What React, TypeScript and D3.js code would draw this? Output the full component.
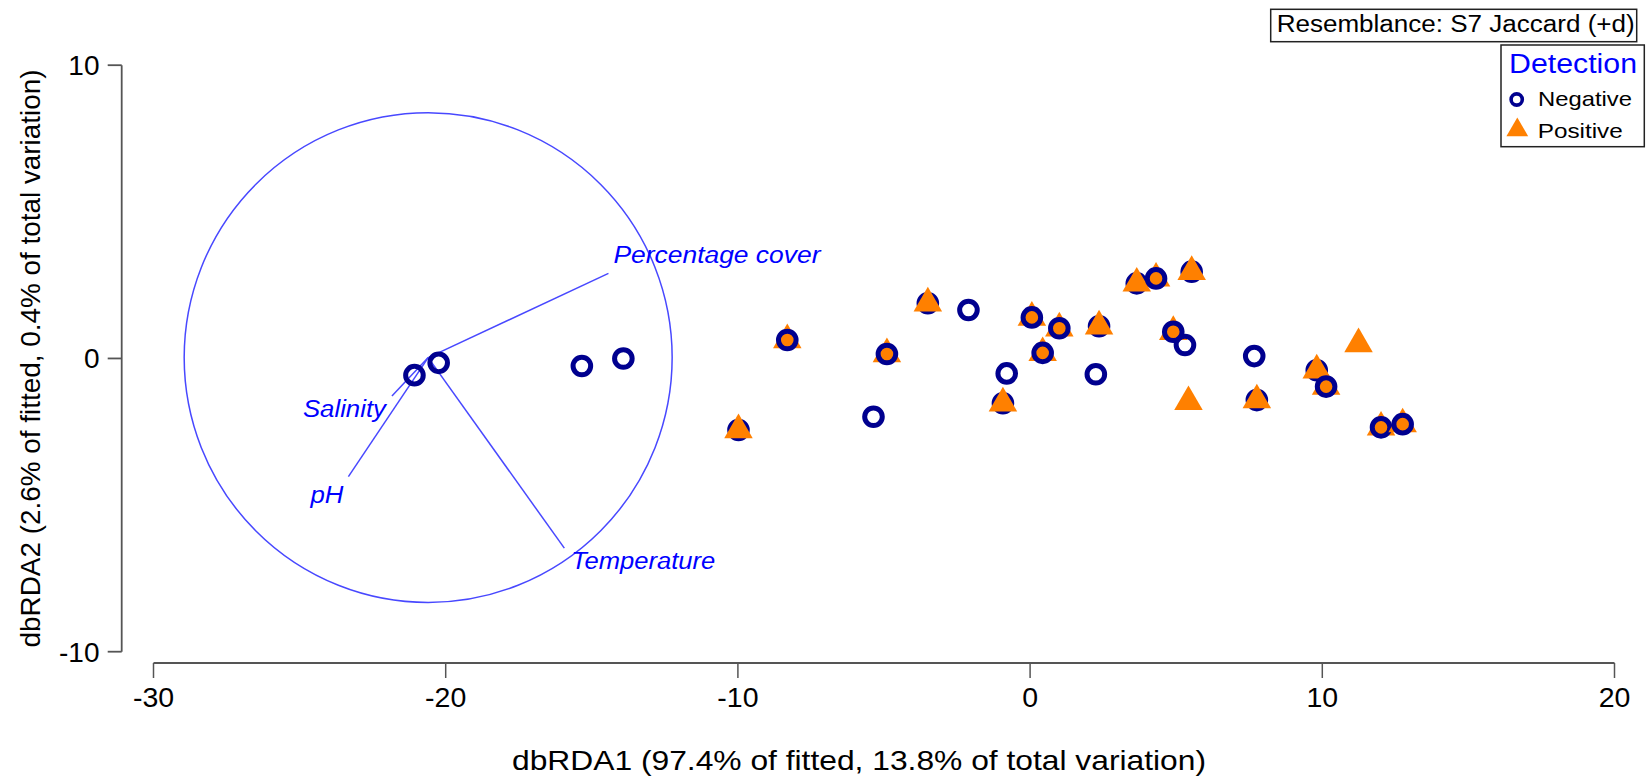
import React from "react";
import * as d3 from "d3";

// ---- Data ----
const xTicks = [-30, -20, -10, 0, 10, 20];
const yTicks = [-10, 0, 10];
const xTitle = "dbRDA1 (97.4% of fitted, 13.8% of total variation)";
const yTitle = "dbRDA2 (2.6% of fitted, 0.4% of total variation)";
const resemblance = "Resemblance: S7 Jaccard (+d)";
const legendTitle = "Detection";
const groups = ["Negative", "Positive"];

// samples in drawing order: x, y, group (0 = Negative, 1 = Positive)
const sampleX = [
  -21.07, -20.24, -15.34, -13.92,
  -9.98, -9.98,
  -8.31, -8.31,
  -4.90, -4.90,
  -5.36,
  -3.50, -3.50,
  -2.11,
  0.06, 0.06,
  1.00, 1.00,
  0.43, 0.43,
  -0.80,
  -0.93, -0.93,
  2.36, 2.36,
  2.25,
  3.65, 3.65,
  4.31, 4.31,
  5.53, 5.53,
  4.90, 4.90,
  5.30,
  5.42,
  7.67,
  7.76, 7.76,
  9.81, 9.81,
  10.13, 10.13,
  11.24,
  12.01, 12.01,
  12.75, 12.75,
];
const sampleY = [
  -0.57, -0.15, -0.26, 0.0,
  -2.44, -2.44,
  0.63, 0.63,
  0.15, 0.15,
  -1.99,
  1.88, 1.88,
  1.65,
  1.40, 1.40,
  1.03, 1.03,
  0.19, 0.19,
  -0.51,
  -1.53, -1.53,
  1.10, 1.10,
  -0.54,
  2.56, 2.56,
  2.73, 2.73,
  2.96, 2.96,
  0.91, 0.91,
  0.46,
  -1.48,
  0.08,
  -1.42, -1.42,
  -0.40, -0.40,
  -0.96, -0.96,
  0.49,
  -2.35, -2.35,
  -2.24, -2.24,
];
const sampleGroup = [
  0, 0, 0, 0,
  0, 1,
  1, 0,
  1, 0,
  0,
  0, 1,
  0,
  1, 0,
  1, 0,
  1, 0,
  0,
  0, 1,
  0, 1,
  0,
  0, 1,
  1, 0,
  0, 1,
  1, 0,
  0,
  1,
  0,
  0, 1,
  0, 1,
  1, 0,
  1,
  1, 0,
  1, 0,
];

// correlation circle and vectors
const circleCenter = [-20.6, 0.03];
const circleRadius = 8.35;
const vectorNames = ["Percentage cover", "Temperature", "pH", "Salinity"];
const vectorX = [-14.43, -15.94, -23.33, -21.84];
const vectorY = [2.9, -6.47, -4.03, -1.28];

// ---- Layout ----
const W = 1648;
const H = 777;
const NAVY = "#00008f";
const ORANGE = "#ff8000";
const VBLUE = "#4848ff";
const FONT = "'Liberation Sans', Arial, sans-serif";

const labelOffsets: Record<string, { dx: number; dy: number; anchor: string; len: number }> = {
  "Percentage cover": { dx: 5, dy: -10, anchor: "start", len: 207 },
  Temperature: { dx: 7, dy: 21, anchor: "start", len: 144 },
  pH: { dx: -5, dy: 26, anchor: "end", len: 33 },
  Salinity: { dx: -6, dy: 21, anchor: "end", len: 83 },
};

export default function App() {
  const x = d3.scaleLinear().domain([-30, 20]).range([153.5, 1614.5]);
  const y = d3.scaleLinear().domain([-10, 10]).range([651.7, 65.2]);
  const pxPerUnitX = x(1) - x(0);
  const pxPerUnitY = y(0) - y(1);

  const triPath = d3.symbol(d3.symbolTriangle, 352)()!;
  const triLegend = d3.symbol(d3.symbolTriangle, 205)()!;

  const cx = x(circleCenter[0]);
  const cy = y(circleCenter[1]);

  const xAxisY = 663;
  const yAxisX = 121.7;

  return (
    <svg
      width={W}
      height={H}
      style={{ position: "absolute", left: 0, top: 0, background: "#fff" }}
      fontFamily={FONT}
    >
      <rect x={0} y={0} width={W} height={H} fill="#fff" />
      {/* Y axis */}
      <line x1={yAxisX} x2={yAxisX} y1={y(10)} y2={y(-10)} stroke="#555" strokeWidth={1.8} />
      {yTicks.map((t) => (
        <g key={"yt" + t}>
          <line x1={yAxisX - 14} x2={yAxisX} y1={y(t)} y2={y(t)} stroke="#555" strokeWidth={1.8} />
          <text x={99.5} y={y(t) + 9.8} textAnchor="end" fontSize={28} fill="#000">
            {t}
          </text>
        </g>
      ))}
      {/* X axis */}
      <line x1={x(-30)} x2={x(20)} y1={xAxisY} y2={xAxisY} stroke="#555" strokeWidth={2} />
      {xTicks.map((t) => (
        <g key={"xt" + t}>
          <line x1={x(t)} x2={x(t)} y1={xAxisY} y2={xAxisY + 15} stroke="#555" strokeWidth={1.5} />
          <text x={x(t)} y={707} textAnchor="middle" fontSize={28.5} fill="#000">
            {t}
          </text>
        </g>
      ))}
      {/* axis titles */}
      <text
        x={859}
        y={770}
        textAnchor="middle"
        fontSize={28}
        textLength={694}
        lengthAdjust="spacingAndGlyphs"
        fill="#000"
      >
        {xTitle}
      </text>
      <text
        transform={`translate(40,${(y(10) + y(-10)) / 2}) rotate(-90)`}
        textAnchor="middle"
        fontSize={28}
        textLength={578}
        lengthAdjust="spacingAndGlyphs"
        fill="#000"
      >
        {yTitle}
      </text>

      {/* correlation circle */}
      <ellipse
        cx={cx}
        cy={cy}
        rx={circleRadius * pxPerUnitX}
        ry={circleRadius * pxPerUnitY}
        fill="none"
        stroke={VBLUE}
        strokeWidth={1.5}
      />
      {vectorNames.map((n, i) => {
        const ex = x(vectorX[i]);
        const ey = y(vectorY[i]);
        const o = labelOffsets[n];
        return (
          <g key={n}>
            <line x1={cx} y1={cy} x2={ex} y2={ey} stroke={VBLUE} strokeWidth={1.5} />
            <text
              x={ex + o.dx}
              y={ey + o.dy}
              textAnchor={o.anchor}
              fontSize={23}
              fontStyle="italic"
              fill="#0000ff"
              textLength={o.len}
              lengthAdjust="spacingAndGlyphs"
            >
              {n}
            </text>
          </g>
        );
      })}

      {/* samples */}
      {sampleX.map((sx, i) => {
        const px = x(sx);
        const py = y(sampleY[i]);
        return sampleGroup[i] === 0 ? (
          <circle key={"s" + i} cx={px} cy={py} r={8.8} fill="none" stroke={NAVY} strokeWidth={5} />
        ) : (
          <path key={"s" + i} d={triPath} transform={`translate(${px},${py})`} fill={ORANGE} />
        );
      })}

      {/* resemblance box */}
      <rect x={1270.7} y={9.3} width={366} height={32.4} fill="#fff" stroke="#222" strokeWidth={1.5} />
      <text
        x={1276.7}
        y={32}
        fontSize={23}
        textLength={358}
        lengthAdjust="spacingAndGlyphs"
        fill="#000"
      >
        {resemblance}
      </text>

      {/* legend */}
      <rect x={1501} y={45} width={143.3} height={101.7} fill="#fff" stroke="#222" strokeWidth={1.5} />
      <text x={1509} y={72.7} fontSize={27} fill="#0000ff" textLength={128} lengthAdjust="spacingAndGlyphs">
        {legendTitle}
      </text>
      <circle cx={1516.7} cy={99.5} r={5.6} fill="none" stroke={NAVY} strokeWidth={3.6} />
      <text x={1538} y={106} fontSize={21} fill="#000" textLength={94} lengthAdjust="spacingAndGlyphs">
        {groups[0]}
      </text>
      <path d={triLegend} transform="translate(1517.3,130)" fill={ORANGE} />
      <text x={1537.7} y={138.3} fontSize={21} fill="#000" textLength={85} lengthAdjust="spacingAndGlyphs">
        {groups[1]}
      </text>
    </svg>
  );
}
